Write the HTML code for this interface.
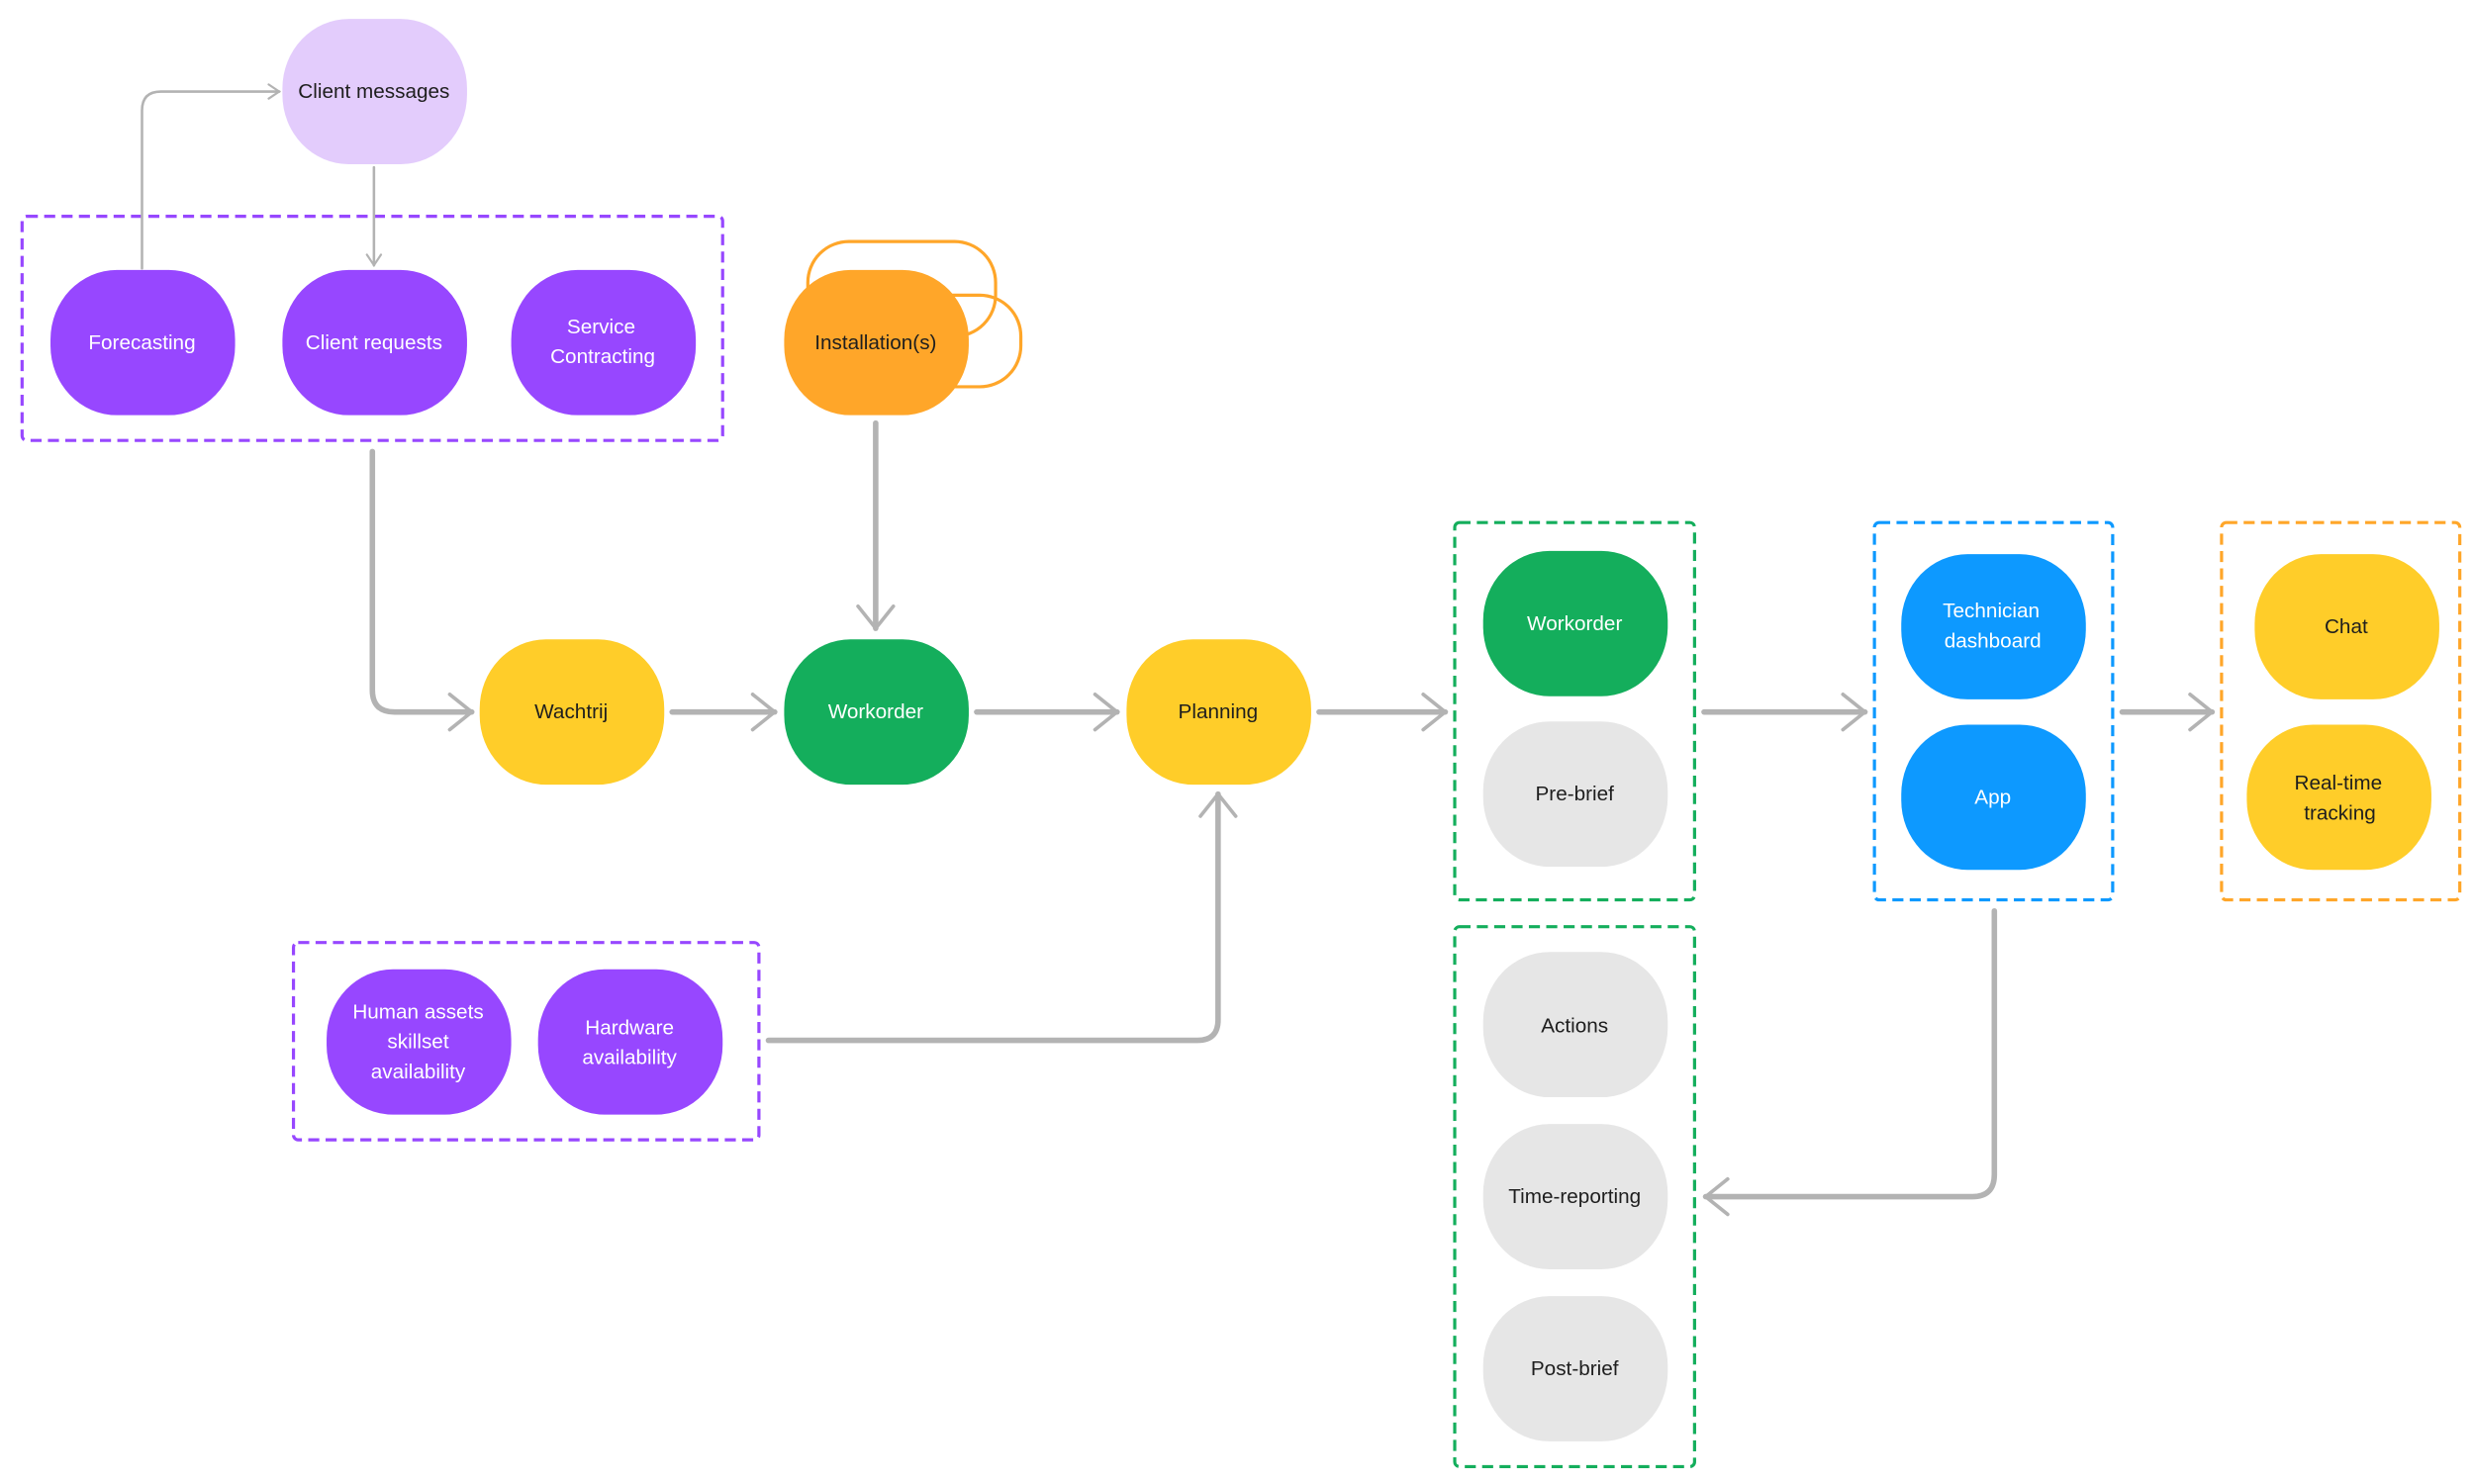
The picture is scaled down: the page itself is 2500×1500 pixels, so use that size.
<!DOCTYPE html>
<html><head><meta charset="utf-8"><style>
html,body{margin:0;padding:0;background:#fff;}
svg{display:block;}
text{font-family:"Liberation Sans",sans-serif;font-size:13px;text-anchor:middle;dominant-baseline:central;}
.d{fill:#1e1e1e}.w{fill:#fff}
</style></head><body>
<svg width="2500" height="1500" viewBox="0 0 1568 940" preserveAspectRatio="none" xmlns="http://www.w3.org/2000/svg">
<defs>
<marker id="a" viewBox="0 0 20 20" refX="18" refY="10" markerWidth="8" markerHeight="8" orient="auto" markerUnits="strokeWidth"><path d="M8 2 L18 10 L8 18" fill="none" stroke="#b3b3b3" stroke-width="1.6" stroke-linecap="round"/></marker>
<marker id="t" viewBox="0 0 20 20" refX="18" refY="10" markerWidth="7" markerHeight="7" orient="auto" markerUnits="strokeWidth"><path d="M6 2 L18 10 L6 18" fill="none" stroke="#b3b3b3" stroke-width="2.4" stroke-linecap="round"/></marker>
</defs>
<g fill="none" stroke-width="2" stroke-dasharray="7 4">
<rect x="14" y="137" width="444" height="142" rx="3" stroke="#9747ff"/>
<rect x="186" y="597" width="295" height="125" rx="3" stroke="#9747ff"/>
<rect x="922" y="331" width="152" height="239" rx="3" stroke="#14ae5c"/>
<rect x="922" y="587" width="152" height="342" rx="3" stroke="#14ae5c"/>
<rect x="1188" y="331" width="151" height="239" rx="3" stroke="#0d99ff"/>
<rect x="1408" y="331" width="151" height="239" rx="3" stroke="#ffa629"/>
</g>
<rect x="512" y="153" width="119" height="60" rx="26" fill="none" stroke="#ffa629" stroke-width="2"/>
<rect x="540" y="187" width="107" height="58" rx="26" fill="none" stroke="#ffa629" stroke-width="2"/>
<g fill="none" stroke="#b3b3b3" stroke-linecap="round" stroke-linejoin="round">
<path d="M90 170 V70 Q90 58 102 58 H177" stroke-width="1.6" marker-end="url(#t)"/>
<path d="M237 106 V168" stroke-width="1.6" marker-end="url(#t)"/>
<g stroke-width="3.5">
<path d="M236 286 V437 Q236 451 250 451 H299" marker-end="url(#a)"/>
<path d="M426 451 H491" marker-end="url(#a)"/>
<path d="M619 451 H708" marker-end="url(#a)"/>
<path d="M836 451 H916" marker-end="url(#a)"/>
<path d="M1080 451 H1182" marker-end="url(#a)"/>
<path d="M1345 451 H1402" marker-end="url(#a)"/>
<path d="M555 268 V398" marker-end="url(#a)"/>
<path d="M487 659 H759 Q772 659 772 646 V503" marker-end="url(#a)"/>
<path d="M1264 577 V744 Q1264 758 1250 758 H1081" marker-end="url(#a)"/>
</g>
</g>
<g>
<rect x="179" y="12" width="117" height="92" rx="42" ry="44" fill="#e3ccfc"/>
<text x="237" y="58" class="d">Client messages</text>
<rect x="32" y="171" width="117" height="92" rx="42" ry="44" fill="#9747ff"/>
<text x="90" y="217" class="w">Forecasting</text>
<rect x="179" y="171" width="117" height="92" rx="42" ry="44" fill="#9747ff"/>
<text x="237" y="217" class="w">Client requests</text>
<rect x="324" y="171" width="117" height="92" rx="42" ry="44" fill="#9747ff"/>
<text x="381" y="207" class="w">Service</text><text x="382" y="226" class="w">Contracting</text>
<rect x="497" y="171" width="117" height="92" rx="42" ry="44" fill="#ffa629"/>
<text x="555" y="217" class="d">Installation(s)</text>
<rect x="304" y="405" width="117" height="92" rx="42" ry="44" fill="#ffcd29"/>
<text x="362" y="451" class="d">Wachtrij</text>
<rect x="497" y="405" width="117" height="92" rx="42" ry="44" fill="#14ae5c"/>
<text x="555" y="451" class="w">Workorder</text>
<rect x="714" y="405" width="117" height="92" rx="42" ry="44" fill="#ffcd29"/>
<text x="772" y="451" class="d">Planning</text>
<rect x="940" y="349" width="117" height="92" rx="42" ry="44" fill="#14ae5c"/>
<text x="998" y="395" class="w">Workorder</text>
<rect x="940" y="457" width="117" height="92" rx="42" ry="44" fill="#e6e6e6"/>
<text x="998" y="503" class="d">Pre-brief</text>
<rect x="1205" y="351" width="117" height="92" rx="42" ry="44" fill="#0d99ff"/>
<text x="1262" y="387" class="w">Technician</text><text x="1263" y="406" class="w">dashboard</text>
<rect x="1205" y="459" width="117" height="92" rx="42" ry="44" fill="#0d99ff"/>
<text x="1263" y="505" class="w">App</text>
<rect x="1429" y="351" width="117" height="92" rx="42" ry="44" fill="#ffcd29"/>
<text x="1487" y="397" class="d">Chat</text>
<rect x="1424" y="459" width="117" height="92" rx="42" ry="44" fill="#ffcd29"/>
<text x="1482" y="496" class="d">Real-time</text><text x="1483" y="515" class="d">tracking</text>
<rect x="940" y="603" width="117" height="92" rx="42" ry="44" fill="#e6e6e6"/>
<text x="998" y="650" class="d">Actions</text>
<rect x="940" y="712" width="117" height="92" rx="42" ry="44" fill="#e6e6e6"/>
<text x="998" y="758" class="d">Time-reporting</text>
<rect x="940" y="821" width="117" height="92" rx="42" ry="44" fill="#e6e6e6"/>
<text x="998" y="867" class="d">Post-brief</text>
<rect x="207" y="614" width="117" height="92" rx="42" ry="44" fill="#9747ff"/>
<text x="265" y="641" class="w">Human assets</text><text x="265" y="660" class="w">skillset</text><text x="265" y="679" class="w">availability</text>
<rect x="341" y="614" width="117" height="92" rx="42" ry="44" fill="#9747ff"/>
<text x="399" y="651" class="w">Hardware</text><text x="399" y="670" class="w">availability</text>
</g>
</svg>
</body></html>
